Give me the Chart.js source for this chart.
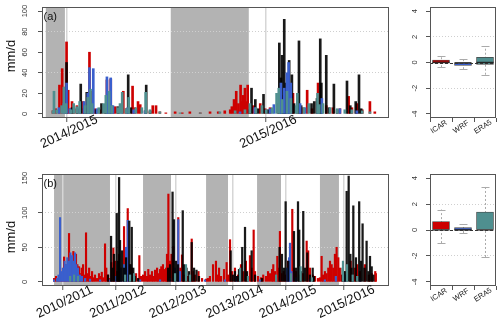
<!DOCTYPE html>
<html><head><meta charset="utf-8">
<script src="https://cdn.jsdelivr.net/npm/chart.js@4.4.1/dist/chart.umd.min.js"></script>
<style>
html,body{margin:0;padding:0;background:#fff;width:500px;height:332px;overflow:hidden;position:relative;}
canvas{position:absolute;}
</style></head><body>
<canvas id="ca" width="395" height="165" style="left:0;top:0;width:395px;height:165px"></canvas>
<canvas id="cb" width="395" height="167" style="left:0;top:165px;width:395px;height:167px"></canvas>
<canvas id="ba" width="105" height="165" style="left:395px;top:0;width:105px;height:165px"></canvas>
<canvas id="bb" width="105" height="167" style="left:395px;top:165px;width:105px;height:167px"></canvas>
<script>
// ---------- Panel (a): daily precipitation, x in days from panel start ----------
const aXTicks = [48, 413];
const aXLabels = ['2014/2015', '2015/2016'];
const aYTicks = [0, 20, 40, 60, 80, 100];
const aYLabels = ['0', '20', '40', '60', '80', '100'];
const aYGrid = [40, 80];
const aShade = [[9, 44], [238, 381]];
const aICAR = [[22,3],[27,5],[34,28],[39,44],[44,26],[47,70],[50,23],[53,5],[57,12],[60,6],[66,8],[71,4],[77,12],[82,6],[89,60],[93,22],[99,5],[108,4],[117,8],[121,33],[125,10],[128,34],[132,6],[136,7],[143,5],[151,22],[156,5],[168,27],[172,6],[178,12],[182,9],[191,3],[200,2],[205,8],[211,8],[218,2],[229,1],[246,2],[259,1],[273,2],[292,1],[310,2],[325,2],[337,3],[347,4],[350,7],[354,14],[358,22],[362,10],[366,28],[369,12],[371,18],[374,25],[376,12],[379,28],[383,6],[389,8],[394,5],[402,10],[411,5],[420,6],[435,10],[444,18],[451,12],[462,20],[470,8],[479,6],[488,23],[497,5],[508,30],[523,8],[535,6],[548,5],[564,17],[570,6],[579,10],[589,4],[603,12],[612,2]];
const aOBS = [[47,50],[57,6],[66,5],[73,29],[79,5],[84,21],[88,12],[101,4],[111,10],[119,8],[126,6],[141,7],[160,38],[165,6],[193,28],[200,3],[383,4],[386,25],[393,14],[398,5],[408,19],[416,4],[437,69],[440,35],[442,57],[446,92],[449,30],[455,52],[460,38],[464,10],[473,71],[477,8],[496,10],[501,12],[506,15],[512,73],[514,30],[523,57],[528,6],[537,29],[543,4],[561,32],[567,8],[577,12],[583,38],[587,5]];
const aWRF = [[33,6],[42,10],[47,30],[53,5],[71,6],[79,12],[86,20],[89,45],[96,44],[103,5],[121,36],[124,20],[128,35],[132,8],[148,5],[159,6],[170,4],[191,3],[365,2],[392,6],[420,5],[427,9],[438,20],[440,30],[446,25],[451,40],[454,50],[458,30],[475,10],[484,6],[508,8],[515,15],[548,5],[579,3]];
const aERA5 = [[22,3],[24,22],[29,4],[38,8],[42,26],[46,10],[55,4],[60,10],[66,7],[71,12],[81,8],[86,16],[91,24],[94,10],[106,6],[115,10],[119,18],[125,22],[130,8],[141,6],[145,10],[149,21],[156,5],[161,16],[174,6],[185,6],[192,21],[200,4],[218,2],[255,1],[292,1],[328,2],[356,3],[374,4],[383,10],[394,6],[405,8],[413,4],[424,6],[432,20],[436,25],[442,14],[451,22],[458,15],[468,8],[470,20],[482,6],[491,10],[507,20],[510,9],[517,10],[530,6],[543,5],[557,4],[570,4],[589,3],[603,2]];

// ---------- Panel (b): x in days from panel start ----------
const bXTicks = [140, 485, 873, 1240, 1585, 1962];
const bXLabels = ['2010/2011', '2011/2012', '2012/2013', '2013/2014', '2014/2015', '2015/2016'];
const bYTicks = [0, 50, 100, 150];
const bYLabels = ['0', '50', '100', '150'];
const bYGrid = [50, 100];
const bShade = [[84, 446], [660, 841], [1068, 1210], [1398, 1553], [1805, 1928]];
const bICAR = [[84,5],[97,8],[110,4],[123,20],[136,10],[149,36],[160,25],[168,12],[181,70],[191,20],[201,30],[209,44],[220,18],[226,40],[235,25],[246,22],[252,12],[263,20],[272,25],[280,10],[291,71],[301,12],[311,20],[317,8],[330,15],[338,6],[349,10],[362,5],[375,12],[382,8],[393,14],[401,6],[414,55],[422,20],[433,10],[442,5],[456,28],[468,49],[479,30],[492,15],[505,40],[518,8],[537,80],[547,30],[561,106],[573,25],[587,20],[602,10],[615,12],[636,38],[647,8],[660,10],[673,15],[686,8],[694,18],[705,10],[718,15],[727,8],[738,17],[751,20],[760,12],[770,18],[778,22],[789,25],[798,18],[809,20],[815,40],[824,127],[835,30],[844,40],[856,51],[867,15],[888,93],[899,20],[912,39],[925,10],[938,20],[951,8],[975,62],[983,15],[996,10],[1019,15],[1042,5],[1068,4],[1080,5],[1093,8],[1113,25],[1132,30],[1145,10],[1152,20],[1165,8],[1184,18],[1201,28],[1210,10],[1223,61],[1236,15],[1255,20],[1275,10],[1294,25],[1309,15],[1326,30],[1352,38],[1363,20],[1376,75],[1385,15],[1404,8],[1423,6],[1438,10],[1456,8],[1469,15],[1482,12],[1495,18],[1503,25],[1514,15],[1529,37],[1537,20],[1546,73],[1556,12],[1570,15],[1585,10],[1598,30],[1626,105],[1637,20],[1650,15],[1676,10],[1695,12],[1719,59],[1729,45],[1740,20],[1760,10],[1773,8],[1792,5],[1805,6],[1816,37],[1825,10],[1837,15],[1848,12],[1859,20],[1870,30],[1881,25],[1891,20],[1902,40],[1913,50],[1924,35],[1934,20],[1948,10],[1960,15],[2004,30],[2032,20],[2046,25],[2064,15],[2096,25],[2122,10],[2141,12],[2163,15],[2167,12]];
const bOBS = [[433,10],[453,66],[463,20],[472,40],[490,99],[498,30],[505,151],[511,60],[524,45],[537,20],[550,35],[571,88],[579,25],[587,79],[597,20],[608,8],[628,5],[822,20],[835,25],[851,130],[860,90],[873,30],[886,25],[917,103],[925,25],[941,20],[958,15],[975,57],[990,20],[1006,17],[1022,8],[1227,45],[1242,10],[1255,15],[1268,8],[1281,18],[1302,50],[1320,79],[1333,15],[1363,45],[1385,10],[1430,5],[1544,50],[1559,40],[1572,20],[1583,116],[1600,30],[1637,73],[1650,20],[1663,116],[1671,75],[1682,15],[1697,102],[1708,20],[1723,42],[1740,10],[1758,20],[1766,8],[1952,20],[1967,15],[1978,131],[1991,153],[2002,40],[2009,20],[2021,110],[2038,35],[2059,116],[2070,30],[2081,84],[2093,20],[2107,59],[2119,15],[2129,37],[2140,22],[2151,10]];
const bWRF = [[84,3],[104,5],[113,10],[123,93],[131,15],[142,20],[152,30],[162,25],[170,35],[181,30],[190,42],[201,38],[209,30],[220,42],[228,25],[239,20],[252,10],[265,8],[285,5],[317,4],[382,3],[446,3],[485,8],[518,20],[537,25],[550,50],[561,89],[576,12],[641,3],[770,3],[835,5],[867,20],[888,90],[899,15],[964,6],[1061,3],[1190,3],[1262,8],[1288,6],[1339,4],[1417,3],[1521,5],[1592,20],[1605,35],[1611,56],[1621,15],[1650,6],[1740,4],[1837,3],[1908,8],[1967,10],[2017,6],[2064,5]];
const bERA5 = [[188,8],[214,10],[239,8],[544,10],[576,10],[602,12],[867,12],[938,25],[964,10],[1288,20],[1339,8],[1521,10],[1618,12],[1680,22],[1753,6],[1954,30],[1980,25],[2017,10],[2046,8]];

// ---------- Box plots (bias, mm/d) ----------
const boxNames = ['ICAR', 'WRF', 'ERA5'];
const boxYTicks = [-4, -2, 0, 2, 4];
const boxYLabels = ['-4', '-2', '0', '2', '4'];
const boxYGrid = [-2, 2];
const aBoxQ1 = [-0.06, -0.23, -0.14];
const aBoxQ3 = [0.19, 0.0, 0.4];
const aBoxMed = [0.02, -0.02, 0.01];
const aBoxLo = [-0.37, -0.52, -0.95];
const aBoxHi = [0.5, 0.28, 1.27];
const bBoxQ1 = [0.0, -0.03, 0.0];
const bBoxQ3 = [0.65, 0.18, 1.38];
const bBoxMed = [0.0, 0.02, 0.0];
const bBoxLo = [-1.01, -0.23, -2.08];
const bBoxHi = [1.58, 0.44, 3.33];

const COL = {ICAR: '#cd0000', OBS: 'rgba(0,0,0,0.9)', WRF: '#3a5fcd', ERA5: '#4f8f8f'};
const FONT = '"Liberation Sans", Arial, Helvetica, sans-serif';

function drawRot(ctx, txt, x, y, deg, size, color) {
  ctx.save();
  ctx.translate(x, y);
  ctx.rotate(deg * Math.PI / 180);
  ctx.font = size + 'px ' + FONT;
  ctx.fillStyle = color;
  ctx.textAlign = 'center';
  ctx.textBaseline = 'middle';
  ctx.fillText(txt, 0, 0);
  ctx.restore();
}
function frame(ch) {
  const a = ch.chartArea, ctx = ch.ctx;
  ctx.save();
  ctx.strokeStyle = '#555';
  ctx.lineWidth = 1;
  ctx.strokeRect(Math.round(a.left) + 0.5, Math.round(a.top) + 0.5, Math.round(a.right - a.left) - 1, Math.round(a.bottom - a.top) - 1);
  ctx.restore();
}

function tsChart(id, c) {
  return new Chart(document.getElementById(id), {
    type: 'bar',
    data: {datasets: c.series.map(s => ({
      label: s.name,
      data: s.data.map(p => ({x: p[0], y: p[1]})),
      backgroundColor: s.color, barThickness: s.w, stack: 'all', order: s.order, borderWidth: 0
    }))},
    options: {
      responsive: false, animation: false, devicePixelRatio: 1,
      layout: {padding: {top: c.top, right: c.right, left: 0, bottom: 0}, autoPadding: false},
      plugins: {legend: {display: false}, tooltip: {enabled: false}},
      scales: {
        x: {type: 'linear', min: c.xMin, max: c.xMax, offset: false,
          afterBuildTicks: s => { s.ticks = c.xTicks.map(v => ({value: v})); },
          afterFit: s => { s.height = c.axisH; },
          ticks: {display: false, autoSkip: false},
          grid: {offset: false, color: '#d6d6d6', lineWidth: 1.5, tickColor: '#555', tickLength: 4, tickWidth: 1},
          border: {display: false}},
        y: {type: 'linear', min: c.yMin, max: c.yMax, stacked: false,
          afterBuildTicks: s => { s.ticks = c.yTicks.map(v => ({value: v})); },
          afterFit: s => { s.width = c.axisW; },
          ticks: {display: false},
          grid: {color: g => (g.tick && c.yGrid.includes(g.tick.value)) ? '#cfcfcf' : 'rgba(0,0,0,0)', lineWidth: 1, tickColor: '#555', tickLength: 4, tickWidth: 1},
          border: {display: false, dash: [1, 2]}}
      }
    },
    plugins: [{
      id: 'deco',
      beforeDraw(ch) {
        const a = ch.chartArea, ctx = ch.ctx, xs = ch.scales.x;
        ctx.save();
        ctx.fillStyle = '#b3b3b3';
        c.shade.forEach(r => {
          const x1 = xs.getPixelForValue(r[0]), x2 = xs.getPixelForValue(r[1]);
          ctx.fillRect(x1, a.top, x2 - x1, a.bottom - a.top);
        });
        ctx.restore();
      },
      afterDraw(ch) {
        const a = ch.chartArea, ctx = ch.ctx, xs = ch.scales.x, ys = ch.scales.y;
        frame(ch);
        c.yTicks.forEach((v, i) => drawRot(ctx, c.yLabels[i], 25, ys.getPixelForValue(v), -90, 7.5, '#333'));
        c.xTicks.forEach((v, i) => drawRot(ctx, c.xLabels[i], xs.getPixelForValue(v) + 2, a.bottom + c.labelDy, -25, 13, '#111'));
        drawRot(ctx, 'mm/d', 11, c.titleY, -90, 13, '#111');
        ctx.save();
        ctx.font = '11px ' + FONT; ctx.fillStyle = '#111'; ctx.textAlign = 'left'; ctx.textBaseline = 'alphabetic';
        ctx.fillText(c.panel, a.left + 1.5, a.top + 12.5);
        ctx.restore();
      }
    }]
  });
}

function boxChart(id, c) {
  return new Chart(document.getElementById(id), {
    type: 'bar',
    data: {datasets: [{
      label: 'bias',
      data: boxNames.map((n, i) => ({x: i + 1, y: [c.q1[i], c.q3[i]]})),
      backgroundColor: [COL.ICAR, COL.WRF, COL.ERA5],
      borderColor: '#444', borderWidth: 0.8, borderSkipped: false, barThickness: 17
    }]},
    options: {
      responsive: false, animation: false, devicePixelRatio: 1,
      layout: {padding: {top: c.top, right: c.right, left: 0, bottom: 0}, autoPadding: false},
      plugins: {legend: {display: false}, tooltip: {enabled: false}},
      scales: {
        x: {type: 'linear', min: 0.5, max: 3.5, offset: false,
          afterBuildTicks: s => { s.ticks = boxNames.map((n, i) => ({value: i + 1})); },
          afterFit: s => { s.height = c.axisH; },
          ticks: {display: false, autoSkip: false},
          grid: {drawOnChartArea: false, tickColor: '#555', tickLength: 4, tickWidth: 1},
          border: {display: false}},
        y: {type: 'linear', min: -4.32, max: 4.32,
          afterBuildTicks: s => { s.ticks = boxYTicks.map(v => ({value: v})); },
          afterFit: s => { s.width = c.axisW; },
          ticks: {display: false},
          grid: {color: g => (g.tick && boxYGrid.includes(g.tick.value)) ? '#cfcfcf' : 'rgba(0,0,0,0)', lineWidth: 1, tickColor: '#555', tickLength: 4, tickWidth: 1},
          border: {display: false, dash: [1, 2]}}
      }
    },
    plugins: [{
      id: 'boxdeco',
      beforeDatasetsDraw(ch) {
        const ctx = ch.ctx, xs = ch.scales.x, ys = ch.scales.y;
        ctx.save();
        ctx.strokeStyle = '#aaaaaa'; ctx.lineWidth = 1;
        boxNames.forEach((n, i) => {
          const x = Math.round(xs.getPixelForValue(i + 1)) + 0.5;
          ctx.setLineDash([2, 2]);
          ctx.beginPath(); ctx.moveTo(x, ys.getPixelForValue(c.lo[i])); ctx.lineTo(x, ys.getPixelForValue(c.hi[i])); ctx.stroke();
          ctx.setLineDash([]);
          [c.lo[i], c.hi[i]].forEach(v => {
            const y = Math.round(ys.getPixelForValue(v)) + 0.5;
            ctx.beginPath(); ctx.moveTo(x - 4, y); ctx.lineTo(x + 4, y); ctx.stroke();
          });
        });
        ctx.restore();
      },
      afterDatasetsDraw(ch) {
        const a = ch.chartArea, ctx = ch.ctx, xs = ch.scales.x, ys = ch.scales.y;
        ctx.save();
        ctx.strokeStyle = '#222'; ctx.lineWidth = 1.2;
        boxNames.forEach((n, i) => {
          const x = xs.getPixelForValue(i + 1), y = ys.getPixelForValue(c.med[i]);
          ctx.beginPath(); ctx.moveTo(x - 8.5, y); ctx.lineTo(x + 8.5, y); ctx.stroke();
        });
        const y0 = Math.round(ys.getPixelForValue(0)) + 0.5;
        ctx.strokeStyle = '#333'; ctx.lineWidth = 1; ctx.setLineDash([3, 2]);
        ctx.beginPath(); ctx.moveTo(a.left, y0); ctx.lineTo(a.right, y0); ctx.stroke();
        ctx.restore();
      },
      afterDraw(ch) {
        const a = ch.chartArea, ctx = ch.ctx, xs = ch.scales.x, ys = ch.scales.y;
        frame(ch);
        boxYTicks.forEach((v, i) => drawRot(ctx, boxYLabels[i], 19.7, ys.getPixelForValue(v), -90, 7.5, '#333'));
        boxNames.forEach((n, i) => drawRot(ctx, n, xs.getPixelForValue(i + 1) - 2, a.bottom + 9, -33, 7.5, '#222'));
      }
    }]
  });
}

tsChart('ca', {
  xMin: 2, xMax: 638, yMin: -4, yMax: 104,
  xTicks: aXTicks, xLabels: aXLabels, yTicks: aYTicks, yLabels: aYLabels, yGrid: aYGrid, shade: aShade,
  top: 7, right: 6, axisW: 42, axisH: 47, labelDy: 14, titleY: 56, panel: '(a)',
  series: [
    {name: 'ERA5', data: aERA5, color: COL.ERA5, w: 2, order: 1},
    {name: 'WRF', data: aWRF, color: COL.WRF, w: 2, order: 2},
    {name: 'OBS', data: aOBS, color: COL.OBS, w: 2, order: 3},
    {name: 'ICAR', data: aICAR, color: COL.ICAR, w: 2, order: 4}
  ]
});
tsChart('cb', {
  xMin: 6, xMax: 2252, yMin: -6, yMax: 156,
  xTicks: bXTicks, xLabels: bXLabels, yTicks: bYTicks, yLabels: bYLabels, yGrid: bYGrid, shade: bShade,
  top: 9, right: 6, axisW: 42, axisH: 46, labelDy: 16, titleY: 72, panel: '(b)',
  series: [
    {name: 'ERA5', data: bERA5, color: COL.ERA5, w: 1.5, order: 1},
    {name: 'OBS', data: bOBS, color: COL.OBS, w: 1.6, order: 2},
    {name: 'WRF', data: bWRF, color: COL.WRF, w: 1.5, order: 3},
    {name: 'ICAR', data: bICAR, color: COL.ICAR, w: 1.5, order: 4}
  ]
});
boxChart('ba', {q1: aBoxQ1, q3: aBoxQ3, med: aBoxMed, lo: aBoxLo, hi: aBoxHi, top: 7, right: 4, axisW: 35, axisH: 47});
boxChart('bb', {q1: bBoxQ1, q3: bBoxQ3, med: bBoxMed, lo: bBoxLo, hi: bBoxHi, top: 9, right: 4, axisW: 35, axisH: 46});
</script>
</body></html>
